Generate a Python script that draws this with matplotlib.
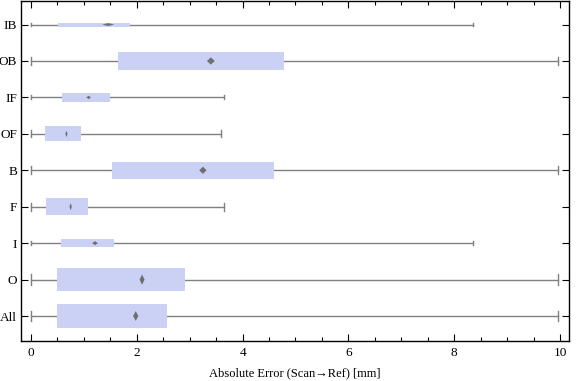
import matplotlib
matplotlib.use("Agg")
import matplotlib.pyplot as plt
from matplotlib.patches import Rectangle, Polygon
from matplotlib.ticker import MultipleLocator

categories = ["All", "O", "I", "F", "B", "OF", "IF", "OB", "IB"]
whisker_lo = [0.0, 0.0, 0.0, 0.0, 0.0, 0.0, 0.0, 0.0, 0.0]
q1 = [0.49, 0.49, 0.57, 0.28, 1.53, 0.26, 0.59, 1.65, 0.51]
center = [1.98, 2.10, 1.21, 0.75, 3.25, 0.67, 1.09, 3.40, 1.46]
q3 = [2.58, 2.91, 1.57, 1.07, 4.59, 0.95, 1.49, 4.78, 1.87]
whisker_hi = [9.97, 9.97, 8.35, 3.64, 9.97, 3.59, 3.64, 9.97, 8.35]
# relative box thickness (row units)
thickness = [0.66, 0.63, 0.22, 0.47, 0.47, 0.41, 0.25, 0.47, 0.11]
# marker (diamond) extents: width in data units, height in row units
marker_w = [0.10, 0.095, 0.11, 0.045, 0.14, 0.04, 0.09, 0.15, 0.23]
marker_h = [0.27, 0.28, 0.11, 0.20, 0.20, 0.18, 0.09, 0.20, 0.08]

plt.rcParams['font.family'] = ['Liberation Serif', 'DejaVu Serif']

fig = plt.figure(figsize=(5.76, 3.81), dpi=100)
ax = fig.add_axes([20.5/576, 40/381, (569-20.5)/576, 340.5/381])

box_color = "#cbd1f5"
line_color = "#808080"
mark_color = "#707070"

for i, cat in enumerate(categories):
    y = i + 1
    h = thickness[i]
    ax.plot([whisker_lo[i], whisker_hi[i]], [y, y], color=line_color, lw=1.0, zorder=2)
    ax.add_patch(Rectangle((q1[i], y - h/2), q3[i]-q1[i], h, facecolor=box_color,
                           edgecolor='none', zorder=3))
    cap = max(0.45*h, 0.1)
    for xv in (whisker_lo[i], whisker_hi[i]):
        ax.plot([xv, xv], [y - cap/2, y + cap/2], color=line_color, lw=1.0, zorder=2)
    mw, mh = marker_w[i]/2, marker_h[i]/2
    c = center[i]
    ax.add_patch(Polygon([(c-mw, y), (c, y+mh), (c+mw, y), (c, y-mh)], closed=True,
                         facecolor=mark_color, edgecolor='none', zorder=4))

ax.set_xlim(-0.198, 10.17)
ax.set_ylim(0.315, 9.66)
ax.set_yticks(range(1, len(categories)+1))
ax.set_yticklabels(categories)
ax.xaxis.set_major_locator(MultipleLocator(2))
ax.xaxis.set_minor_locator(MultipleLocator(0.5))
ax.tick_params(axis='both', which='both', direction='in', top=True, right=True,
               labelsize=9.5, colors='black')
ax.tick_params(which='major', length=5, width=0.8)
ax.tick_params(which='minor', length=3, width=0.8)
ax.tick_params(axis='y', pad=2.5)
ax.tick_params(axis='x', pad=4)
for s in ax.spines.values():
    s.set_linewidth(1.0)
ax.set_xlabel("Absolute Error (Scan\u2192Ref) [mm]", fontsize=9, labelpad=6)

fig.savefig("out.png", dpi=100)
